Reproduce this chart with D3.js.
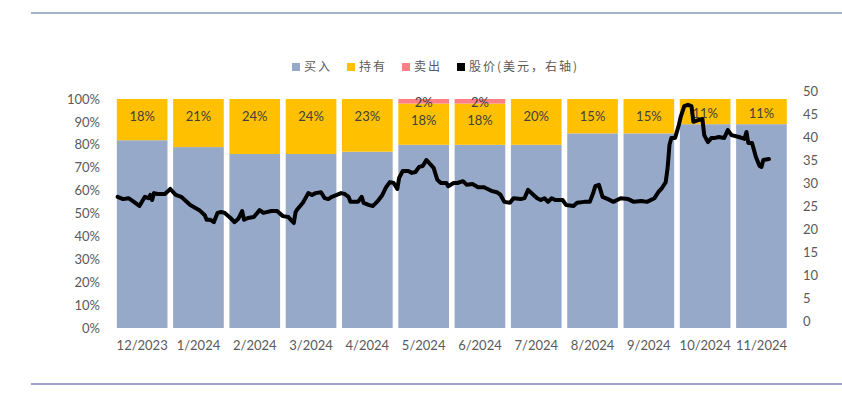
<!DOCTYPE html>
<html>
<head>
<meta charset="utf-8">
<script src="https://cdn.jsdelivr.net/npm/d3@7"></script>
<style>
  body { margin: 0; background: #fff; }
  text { font-family: Lato, "Noto Sans", sans-serif; }
</style>
</head>
<body>
<script>
// categories + stacked shares (percent)
var months = ["12/2023", "1/2024", "2/2024", "3/2024", "4/2024", "5/2024", "6/2024", "7/2024", "8/2024", "9/2024", "10/2024", "11/2024"];
var buyPct  = [82, 79, 76, 76, 77, 80, 80, 80, 85, 85, 89, 89];
var holdPct = [18, 21, 24, 24, 23, 18, 18, 20, 15, 15, 11, 11];
var sellPct = [0, 0, 0, 0, 0, 2, 2, 0, 0, 0, 0, 0];

// share price, USD (right axis)
var priceDates = [
  "2023-12-03","2023-12-06","2023-12-09","2023-12-12","2023-12-15","2023-12-18","2023-12-20","2023-12-21","2023-12-22","2023-12-23","2023-12-25","2023-12-29",
  "2024-01-01","2024-01-04","2024-01-07","2024-01-12","2024-01-17","2024-01-20","2024-01-21","2024-01-23","2024-01-25","2024-01-27","2024-01-29","2024-01-31",
  "2024-02-03","2024-02-05","2024-02-07","2024-02-09","2024-02-10","2024-02-12","2024-02-15","2024-02-18","2024-02-20","2024-02-24","2024-02-27",
  "2024-03-01","2024-03-04","2024-03-07","2024-03-08","2024-03-09","2024-03-12","2024-03-15","2024-03-17","2024-03-19","2024-03-22","2024-03-24","2024-03-26","2024-03-28",
  "2024-04-02","2024-04-04","2024-04-06","2024-04-07","2024-04-11","2024-04-13","2024-04-14","2024-04-17","2024-04-19","2024-04-22","2024-04-24","2024-04-26","2024-04-28","2024-04-30",
  "2024-05-02","2024-05-03","2024-05-05","2024-05-08","2024-05-10","2024-05-12","2024-05-14","2024-05-16","2024-05-18","2024-05-19","2024-05-22","2024-05-24","2024-05-26","2024-05-29","2024-05-30",
  "2024-06-02","2024-06-04","2024-06-07","2024-06-09","2024-06-12","2024-06-15","2024-06-18","2024-06-19","2024-06-22","2024-06-25","2024-06-27","2024-06-29",
  "2024-07-02","2024-07-04","2024-07-08","2024-07-10","2024-07-12","2024-07-15","2024-07-17","2024-07-19","2024-07-21","2024-07-23","2024-07-25","2024-07-27","2024-07-31",
  "2024-08-02","2024-08-06","2024-08-08","2024-08-12","2024-08-15","2024-08-17","2024-08-18","2024-08-20","2024-08-22","2024-08-25","2024-08-28","2024-08-30",
  "2024-09-01","2024-09-05","2024-09-08","2024-09-12","2024-09-15","2024-09-19","2024-09-21","2024-09-23","2024-09-25","2024-09-26","2024-09-27","2024-09-28","2024-09-30",
  "2024-10-02","2024-10-03","2024-10-05","2024-10-07","2024-10-09","2024-10-10","2024-10-13","2024-10-15","2024-10-16","2024-10-18","2024-10-20","2024-10-22","2024-10-24","2024-10-27","2024-10-29","2024-10-31",
  "2024-11-04","2024-11-07","2024-11-08","2024-11-09","2024-11-11","2024-11-13","2024-11-15","2024-11-16","2024-11-17","2024-11-20"
];
var priceValues = [
  27.0, 26.5, 26.7, 25.9, 25.0, 27.0, 26.7, 27.4, 26.3, 27.8, 27.6, 27.6,
  28.7, 27.4, 27.0, 25.2, 24.1, 23.0, 22.0, 22.0, 21.5, 23.5, 23.7, 23.5,
  22.4, 21.5, 22.2, 23.9, 22.0, 22.4, 22.6, 24.1, 23.5, 23.9, 23.9,
  22.8, 22.6, 21.3, 23.7, 24.3, 25.7, 27.8, 27.4, 27.8, 28.0, 26.7, 26.5, 27.0,
  27.8, 27.6, 27.0, 25.9, 25.9, 27.0, 25.7, 25.2, 25.0, 26.3, 27.4, 29.1, 30.2, 30.0,
  28.7, 31.1, 32.6, 32.6, 32.2, 32.4, 33.5, 33.7, 35.0, 34.6, 33.3, 30.7, 30.0, 30.0, 29.3,
  30.0, 30.0, 30.4, 29.6, 29.8, 29.1, 29.1, 28.9, 28.3, 28.0, 27.4, 25.9,
  25.7, 26.7, 26.5, 26.7, 28.5, 27.4, 26.7, 26.3, 26.7, 25.9, 26.7, 26.3, 26.3,
  25.2, 25.0, 25.7, 25.9, 25.9, 28.0, 29.3, 29.6, 27.0, 26.5, 25.9, 26.3,
  26.7, 26.5, 25.9, 26.1, 25.9, 26.7, 28.0, 28.9, 30.2, 33.3, 38.3, 39.8, 39.8,
  42.6, 44.3, 46.7, 47.0, 46.7, 43.3, 43.7, 43.9, 40.4, 38.9, 39.8, 39.8, 40.0, 39.8, 41.5, 40.4,
  40.0, 39.6, 41.1, 38.7, 38.7, 35.7, 33.7, 33.5, 35.0, 35.2
];

var leftTicks = [0, 10, 20, 30, 40, 50, 60, 70, 80, 90, 100];
var rightTicks = [0, 5, 10, 15, 20, 25, 30, 35, 40, 45, 50];
var legendNames = ["买入", "持有", "卖出", "股价(美元，右轴)"];
var colors = ["#97a9c9", "#ffc000", "#ff7f86", "#000000"];

var W = 842, H = 393;
var svg = d3.select("body").append("svg").attr("width", W).attr("height", H);

// frame lines top / bottom
svg.append("line").attr("x1", 31).attr("x2", W).attr("y1", 13).attr("y2", 13)
  .attr("stroke", "#8497b8").attr("stroke-width", 1.5);
svg.append("line").attr("x1", 31).attr("x2", W).attr("y1", 384).attr("y2", 384)
  .attr("stroke", "#8080c0").attr("stroke-width", 1.3);

var x = d3.scaleBand().domain(months).range([114, 789.6]).paddingInner(0.1).paddingOuter(0.05);
var y = d3.scaleLinear().domain([0, 100]).range([328, 99]);
var yR = d3.scaleLinear().domain([0, 50]).range([321, 91]);

// stack: buy at bottom, then hold, then sell
var rows = months.map(function(m, i) {
  return {month: m, buy: buyPct[i], hold: holdPct[i], sell: sellPct[i]};
});
var stack = d3.stack().keys(["buy", "hold", "sell"])(rows);

svg.selectAll("g.layer")
  .data(stack)
  .enter().append("g")
  .attr("class", "layer")
  .attr("fill", function(d, i) { return colors[i]; })
  .selectAll("rect")
  .data(function(d) { return d; })
  .enter().append("rect")
  .attr("x", function(d) { return x(d.data.month); })
  .attr("y", function(d) { return y(d[1]); })
  .attr("width", x.bandwidth())
  .attr("height", function(d) { return y(d[0]) - y(d[1]); });

// data labels for hold and sell (inside end)
[1, 2].forEach(function(k) {
  svg.selectAll("text.lab" + k)
    .data(stack[k].filter(function(d) { return d[1] - d[0] > 0; }))
    .enter().append("text")
    .attr("x", function(d) { return x(d.data.month) + x.bandwidth() / 2; })
    .attr("y", function(d) {
      var top = y(d[1]), mid = (y(d[0]) + y(d[1])) / 2;
      return Math.min(top + 17, mid + 1.5);
    })
    .attr("dy", "0.35em")
    .attr("text-anchor", "middle")
    .attr("font-size", 13)
    .attr("fill", "#404040")
    .text(function(d) { return (d[1] - d[0]) + "%"; });
});

// price line, dates placed inside each month's slot
var xLine = d3.scaleLinear().domain([0, 12]).range([114, 789.6]);
var parse = d3.timeParse("%Y-%m-%d");
function monthPos(s) {
  var dt = parse(s);
  var idx = (dt.getFullYear() - 2023) * 12 + dt.getMonth() - 11;
  var days = new Date(dt.getFullYear(), dt.getMonth() + 1, 0).getDate();
  return idx + (dt.getDate() - 1) / days;
}
var line = d3.line()
  .x(function(d, i) { return xLine(monthPos(priceDates[i])); })
  .y(function(d) { return yR(d); });
svg.append("path")
  .datum(priceValues)
  .attr("d", line)
  .attr("fill", "none")
  .attr("stroke", "#000")
  .attr("stroke-width", 4)
  .attr("stroke-linejoin", "round")
  .attr("stroke-linecap", "round");

// axes
var leftAxis = svg.append("g").attr("transform", "translate(100,0)")
  .call(d3.axisLeft(y).tickValues(leftTicks).tickFormat(function(d) { return d + "%"; }).tickSize(0).tickPadding(0));
var rightAxis = svg.append("g").attr("transform", "translate(803,0)")
  .call(d3.axisRight(yR).tickValues(rightTicks).tickSize(0).tickPadding(0));
var bottomAxis = svg.append("g").attr("transform", "translate(0,341)")
  .call(d3.axisBottom(x).tickSize(0).tickPadding(0));
[leftAxis, rightAxis, bottomAxis].forEach(function(g) {
  g.select(".domain").remove();
  g.selectAll("text").attr("font-size", 13).attr("fill", "#595959")
    .attr("font-family", "Lato, 'Noto Sans', sans-serif");
});

// legend
var legendX = [292, 347, 402, 457];
var legend = svg.selectAll("g.leg")
  .data(legendNames)
  .enter().append("g")
  .attr("class", "leg")
  .attr("transform", function(d, i) { return "translate(" + legendX[i] + ",67)"; });
legend.append("rect")
  .attr("x", 0).attr("y", -4).attr("width", 8).attr("height", 8)
  .attr("fill", function(d, i) { return colors[i]; });
legend.append("text")
  .attr("x", 12).attr("dy", "0.35em")
  .attr("font-size", 12)
  .attr("fill", "#595959")
  .style("font-family", "'Noto Sans CJK SC', sans-serif")
  .style("letter-spacing", "2px")
  .text(function(d) { return d; });
</script>
</body>
</html>
